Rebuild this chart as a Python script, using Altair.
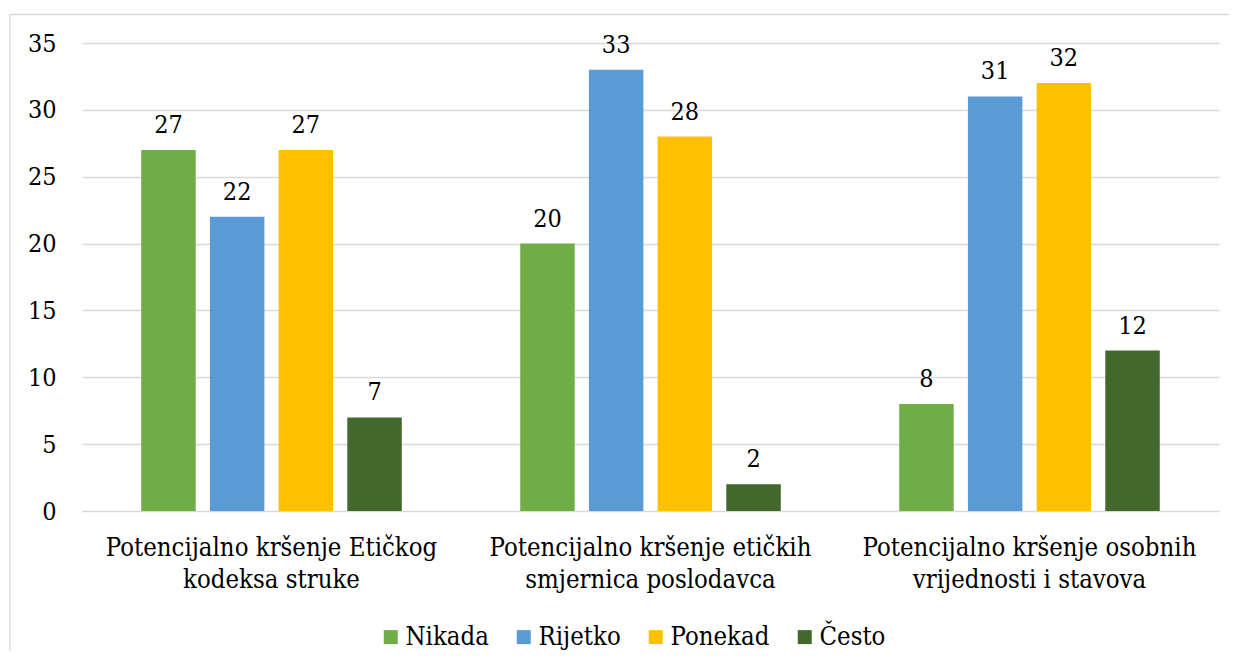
import altair as alt
import pandas as pd

categories = [
    "Potencijalno kršenje Etičkog\nkodeksa struke",
    "Potencijalno kršenje etičkih\nsmjernica poslodavca",
    "Potencijalno kršenje osobnih\nvrijednosti i stavova",
]
series = ["Nikada", "Rijetko", "Ponekad", "Često"]
colors = ["#70AD47", "#5B9BD5", "#FFC000", "#43682B"]
values = {
    "Nikada": [27, 20, 8],
    "Rijetko": [22, 33, 31],
    "Ponekad": [27, 28, 32],
    "Često": [7, 2, 12],
}

rows = []
for s in series:
    for c, v in zip(categories, values[s]):
        rows.append({"kategorija": c, "odgovor": s, "broj": v})
df = pd.DataFrame(rows)

FONT = "DejaVu Serif Condensed"
FS_TEXT = 25.5
FS_NUM = 25

x_enc = alt.X(
    "kategorija:N",
    sort=categories,
    title=None,
    scale=alt.Scale(paddingInner=0, paddingOuter=0),
    axis=alt.Axis(
        labelAngle=0,
        labelExpr="split(datum.label, '\\n')",
        labelFont=FONT,
        labelFontSize=FS_TEXT,
        labelColor="#000000",
        labelLineHeight=32,
        labelPadding=24,
        labelBaseline="top",
        labelLimit=0,
        ticks=False,
        domainColor="#d9d9d9",
        domainWidth=1,
        grid=False,
    ),
)
xo_enc = alt.XOffset(
    "odgovor:N",
    sort=series,
    scale=alt.Scale(paddingInner=0.207, paddingOuter=0.862),
)
y_enc = alt.Y(
    "broj:Q",
    title=None,
    scale=alt.Scale(domain=[0, 35]),
    axis=alt.Axis(
        values=[0, 5, 10, 15, 20, 25, 30, 35],
        labelFont=FONT,
        labelFontSize=FS_NUM,
        labelColor="#000000",
        labelPadding=26,
        ticks=False,
        domain=False,
        gridColor="#d9d9d9",
        gridWidth=1.3,
    ),
)

base = alt.Chart(df)

bars = base.mark_bar().encode(
    x=x_enc,
    xOffset=xo_enc,
    y=y_enc,
    color=alt.Color(
        "odgovor:N",
        sort=series,
        scale=alt.Scale(domain=series, range=colors),
        legend=alt.Legend(
            title=None,
            orient="none",
            direction="horizontal",
            legendX=296,
            legendY=581,
            symbolType="square",
            symbolSize=196,
            symbolStrokeWidth=0,
            labelFont=FONT,
            labelFontSize=FS_TEXT,
            labelColor="#000000",
            labelOffset=2,
            labelLimit=0,
            columnPadding=22,
            padding=0,
        ),
    ),
)

labels = base.mark_text(
    font=FONT, fontSize=FS_NUM, color="#000000", baseline="alphabetic", dy=-17
).encode(
    x=alt.X("kategorija:N", sort=categories),
    xOffset=alt.XOffset("odgovor:N", sort=series),
    y=alt.Y("broj:Q"),
    text=alt.Text("broj:Q"),
)

frame = pd.DataFrame({"k": [0]})
border_left = alt.Chart(frame).mark_rule(color="#d9d9d9", strokeWidth=1.3).encode(
    x=alt.value(-72), y=alt.value(-28.5), y2=alt.value(900)
)
border_top = alt.Chart(frame).mark_rule(color="#d9d9d9", strokeWidth=1.3).encode(
    x=alt.value(-72), x2=alt.value(1300), y=alt.value(-28.5)
)

chart = (
    alt.layer(border_left, border_top, bars, labels)
    .properties(
        width=1137,
        height=468,
        autosize=alt.AutoSizeParams(type="none"),
        padding={"left": 74, "top": 35, "right": 10, "bottom": 140},
        background="#ffffff",
    )
    .configure_view(stroke=None)
)

chart.save("out.html", embed_options={"renderer": "svg", "actions": False})
